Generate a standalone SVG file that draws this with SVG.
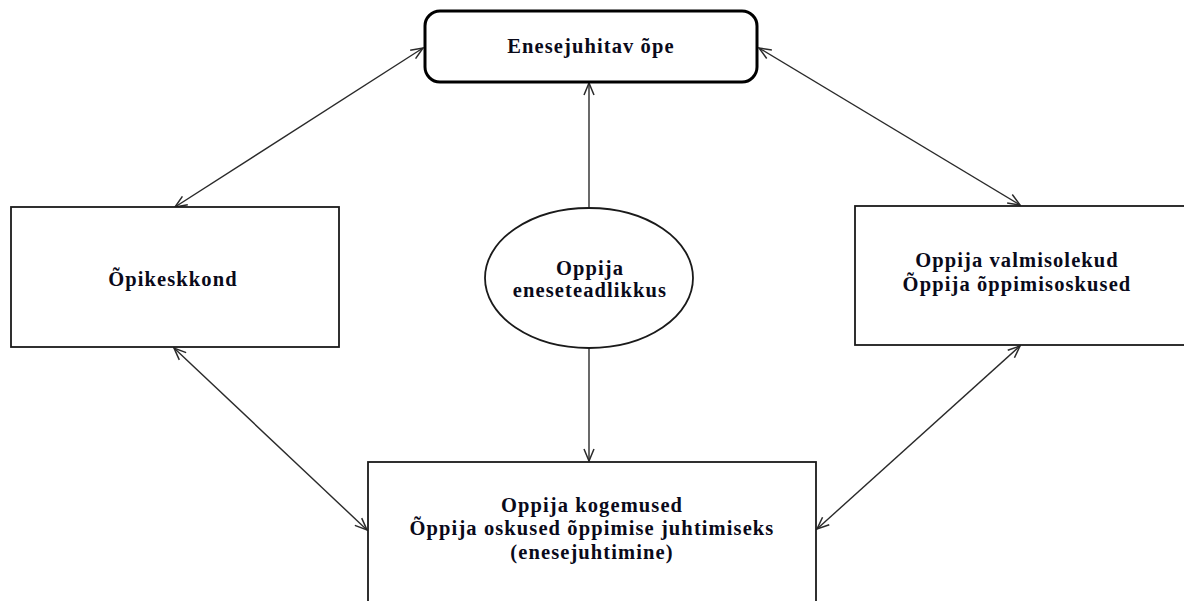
<svg xmlns="http://www.w3.org/2000/svg" width="1184" height="601" viewBox="0 0 1184 601">
  <style>
    .box { fill: #ffffff; stroke: #1a1a1a; stroke-width: 1.8; }
    .main { fill: #ffffff; stroke: #000000; stroke-width: 3; }
    .lbl { font-family: "Liberation Serif", "Times New Roman", serif; font-weight: bold; font-size: 20.5px; letter-spacing: 1.1px; fill: #0a0a1a; text-anchor: middle; }
    .conn { stroke: #2a2a2a; stroke-width: 1.4; fill: none; }
  </style>
  <defs>
    <marker id="arr" viewBox="0 0 14 12" refX="13" refY="6" markerWidth="14" markerHeight="12" markerUnits="userSpaceOnUse" orient="auto-start-reverse">
      <path d="M1,1 L13,6 L1,11" fill="none" stroke="#2a2a2a" stroke-width="1.5"/>
    </marker>
  </defs>
  <rect width="1184" height="601" fill="#ffffff"/>

  <!-- connectors -->
  <g id="connectors">
    <line class="conn" x1="589" y1="208" x2="589" y2="83" marker-end="url(#arr)"/>
    <line class="conn" x1="589" y1="348" x2="589" y2="461" marker-end="url(#arr)"/>
    <line class="conn" x1="175" y1="207" x2="423" y2="48" marker-start="url(#arr)" marker-end="url(#arr)"/>
    <line class="conn" x1="759" y1="48" x2="1020" y2="205" marker-start="url(#arr)" marker-end="url(#arr)"/>
    <line class="conn" x1="174" y1="348" x2="367" y2="530" marker-start="url(#arr)" marker-end="url(#arr)"/>
    <line class="conn" x1="1020" y1="346" x2="817" y2="529" marker-start="url(#arr)" marker-end="url(#arr)"/>
  </g>

  <!-- self-directed learning -->
  <g id="node-enesejuhitav">
    <rect class="main" x="425" y="11" width="332" height="71" rx="15" ry="15"/>
    <text class="lbl" x="591" y="53">Enesejuhitav õpe</text>
  </g>

  <!-- learning environment -->
  <g id="node-opikeskkond">
    <rect class="box" x="11" y="207" width="328" height="140"/>
    <text class="lbl" x="173" y="286">Õpikeskkond</text>
  </g>

  <!-- learner self-awareness -->
  <g id="node-eneseteadlikkus">
    <ellipse class="box" cx="589" cy="278" rx="104" ry="70" stroke-width="1.5"/>
    <text class="lbl" x="590" y="275">Oppija</text>
    <text class="lbl" x="590" y="297">eneseteadlikkus</text>
  </g>

  <!-- learner readiness -->
  <g id="node-valmisolekud">
    <rect class="box" x="855" y="206" width="340" height="139"/>
    <text class="lbl" x="1017" y="267">Oppija valmisolekud</text>
    <text class="lbl" x="1017" y="291">Õppija õppimisoskused</text>
  </g>

  <!-- learner experience -->
  <g id="node-kogemused">
    <rect class="box" x="368" y="462" width="448" height="150"/>
    <text class="lbl" x="592" y="512">Oppija kogemused</text>
    <text class="lbl" x="592" y="535">Õppija oskused õppimise juhtimiseks</text>
    <text class="lbl" x="592" y="559">(enesejuhtimine)</text>
  </g>
</svg>
